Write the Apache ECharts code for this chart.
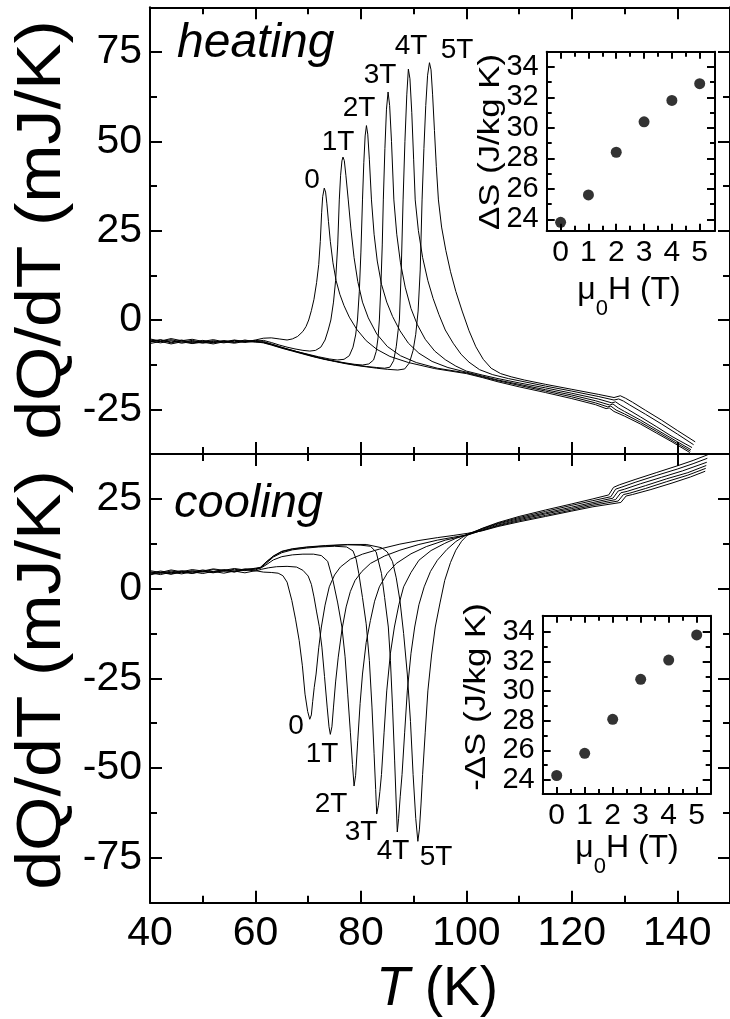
<!DOCTYPE html>
<html>
<head>
<meta charset="utf-8">
<script src="https://cdn.jsdelivr.net/npm/echarts@6.0.0/dist/echarts.min.js"></script>
<style>
  html, body { margin: 0; padding: 0; background: #fff; }
  #chart { width: 730px; height: 1019px; }
</style>
</head>
<body>
<div id="chart"></div>
<script>
// ---- field labels ----
const fieldNames = ['0', '1T', '2T', '3T', '4T', '5T'];

// ---- tick values ----
const tempMajor = [40, 60, 80, 100, 120, 140];
const tempMinor = [50, 70, 90, 110, 130];
const heatMajor = [-25, 0, 25, 50, 75];
const heatMinor = [-12.5, 12.5, 37.5, 62.5];
const coolMajor = [-75, -50, -25, 0, 25];
const coolMinor = [-62.5, -37.5, -12.5, 12.5];
const fieldMajor = [0, 1, 2, 3, 4, 5];
const fieldMinor = [0.5, 1.5, 2.5, 3.5, 4.5];
const entMajor = [24, 26, 28, 30, 32, 34];
const entMinor = [25, 27, 29, 31, 33];

// ---- heating dQ/dT curves [T (K), mJ/K] ----
const heat0 = [[40,-5.6],[42,-6.1],[44,-5.5],[46,-6.2],[48,-5.7],[50,-6.3],[52,-5.8],[54,-6.2],[56,-5.7],[58,-6.1],[60,-5.6],
  [61.5,-5.1],[63,-5.0],[64.5,-5.3],[66,-5.6],[67,-5.3],[68,-4.6],[69,-3.2],[69.6,-1.8],[70.1,0],[70.6,2.6],[71.1,5.8],[71.6,10.5],[72,15.5],[72.3,22],[72.55,30],[72.75,34.5],[73.05,36.9],[73.3,35.8],[73.55,32.5],[73.85,27.5],[74.2,22],[74.7,16],[75.3,11],[76,7.2],[76.8,4],[77.8,0.8],[79.2,-2.6],[81,-5.8],[83,-8.2],[85.5,-10.2],[89,-11.9],[94,-13.6],
  [100,-15.0],[103,-16.1],[106,-17.3],[110,-18.7],[115,-20.3],[120,-22.0],[124.5,-23.7],[126.5,-24.8],[127.1,-24.6],[128,-25.6],[130,-26.9],[133,-29.1],[136,-31.6],[139,-34.1],[142.4,-37.1]];
const heat1 = [[40,-6.2],[42,-5.6],[44,-6.4],[46,-5.8],[48,-6.5],[50,-5.9],[52,-6.4],[54,-5.8],[56,-6.3],[58,-5.8],[60,-6.0],
  [61.5,-5.7],[63,-6.3],[64.5,-7.0],[66,-7.6],[67.5,-8.1],[69,-8.5],[70.3,-8.7],[71.4,-8.5],[72.4,-7.6],[73.2,-5.6],[73.8,-2.8],[74.3,0],[74.8,5],[75.2,11],[75.6,21],[75.9,33.6],[76.15,40.5],[76.4,44.5],[76.6,45.6],[76.85,44.6],[77.15,40.5],[77.6,33.6],[78.1,25.5],[78.7,17.5],[79.4,10.8],[80.3,5],[81.4,0.6],[83,-3.9],[85,-7.4],[87.5,-10.0],[90.5,-11.9],[94.5,-13.5],
  [100,-14.8],[103,-15.9],[106,-17.0],[110,-18.3],[115,-19.9],[120,-21.5],[124.5,-23.2],[126.8,-24.3],[127.4,-24.1],[128.4,-25.2],[130,-26.3],[133,-28.6],[136,-31.1],[139,-33.7],[142.5,-36.7]];
const heat2 = [[40,-5.3],[42,-5.9],[44,-5.2],[46,-5.8],[48,-5.4],[50,-6.0],[52,-5.5],[54,-6.1],[56,-5.6],[58,-6.0],[60,-5.7],
  [61.5,-6.0],[63,-6.7],[64.5,-7.4],[66,-8.1],[68,-8.9],[70,-9.6],[72,-10.3],[74,-10.9],[75.5,-11.2],[76.8,-11.0],[77.8,-10.0],[78.5,-7.6],[79,-4.2],[79.35,0],[79.7,8],[80,19],[80.3,33.6],[80.55,44],[80.8,51.5],[81.05,54.4],[81.3,52],[81.6,45],[82,33.6],[82.5,24],[83.1,16.5],[83.9,10],[84.9,5],[86,1],[87.4,-3],[89,-6.5],[91,-9.3],[93.5,-11.6],[96.5,-13.3],
  [100,-14.6],[103,-15.7],[106,-16.8],[110,-18.0],[115,-19.5],[120,-21.0],[124.5,-22.6],[127.2,-23.8],[127.8,-23.5],[128.8,-24.6],[130,-25.6],[133,-28.0],[136,-30.6],[139,-33.2],[142.6,-36.3]];
const heat3 = [[40,-6.6],[42,-6.0],[44,-6.7],[46,-6.1],[48,-6.6],[50,-6.2],[52,-6.7],[54,-6.1],[56,-6.5],[58,-6.0],[60,-6.2],
  [61.5,-6.2],[63,-6.8],[65,-7.7],[67,-8.5],[69,-9.3],[71,-10.1],[73,-10.9],[75,-11.5],[77,-12.0],[78.8,-12.4],[80.3,-12.6],[81.5,-12.3],[82.4,-11.2],[82.9,-8.8],[83.25,-5],[83.5,0],[83.8,10],[84.05,21],[84.25,33.6],[84.55,48],[84.85,59],[85.15,63.8],[85.45,60],[85.8,50],[86.25,33.6],[86.8,24],[87.5,16],[88.4,9.2],[89.5,3.2],[90.7,-1.3],[92.2,-5.4],[94,-8.7],[96,-11.1],[98,-12.9],
  [100,-14.3],[103,-15.4],[106,-16.4],[110,-17.6],[115,-19.0],[120,-20.5],[125,-22.1],[127.6,-23.2],[128.3,-22.9],[129.2,-23.8],[130.5,-24.9],[133,-27.1],[136,-29.8],[139,-32.6],[142.8,-35.7]];
const heat4 = [[40,-5.9],[42,-6.4],[44,-5.8],[46,-6.5],[48,-6.0],[50,-6.5],[52,-6.0],[54,-6.4],[56,-5.9],[58,-6.3],[60,-5.9],
  [61.5,-6.3],[63,-6.9],[65,-7.8],[67,-8.6],[69,-9.4],[71,-10.2],[73,-10.9],[75,-11.5],[77,-12.1],[79,-12.6],[81,-13.0],[83,-13.3],[84.5,-13.5],[85.5,-13.2],[86.2,-11.4],[86.7,-7.5],[87.05,-3],[87.3,0],[87.65,14],[88,33.6],[88.35,50],[88.7,63],[89,70.2],[89.3,67.5],[89.65,58],[90,45],[90.3,33.6],[90.9,25],[91.7,17.5],[92.7,11],[93.7,6],[94.8,1.5],[96,-2.8],[97.5,-6.5],[99,-9.6],[100.5,-11.8],[102.5,-13.9],[105,-15.3],[108,-16.4],
  [110,-17.0],[115,-18.5],[120,-19.9],[125,-21.4],[128,-22.4],[128.9,-22.1],[129.8,-22.7],[131,-23.8],[134,-26.4],[137,-29.1],[140,-31.9],[143.1,-34.9]];
const heat5 = [[40,-6.0],[42,-5.5],[44,-6.2],[46,-5.6],[48,-6.3],[50,-5.7],[52,-6.3],[54,-5.8],[56,-6.2],[58,-5.6],[60,-6.1],
  [61.5,-6.4],[63,-7.0],[65,-7.9],[67,-8.7],[69,-9.5],[71,-10.3],[73,-11.0],[75,-11.6],[77,-12.2],[79,-12.7],[81,-13.1],[83,-13.5],[85,-13.8],[87,-14.0],[88.3,-13.7],[89.2,-12.0],[89.9,-8.5],[90.4,-4],[90.85,2.5],[91.25,14],[91.6,33.6],[91.95,48],[92.3,60],[92.65,68.5],[93,72],[93.3,70],[93.6,63],[93.95,53],[94.3,43],[94.7,33.6],[95.3,26],[96.1,19.5],[97,13.5],[98,8],[99.2,2.5],[100.5,-3],[101.8,-7.5],[103.2,-11],[104.7,-13.5],[106.5,-15],[108.5,-15.9],[111,-16.8],
  [115,-18.0],[120,-19.4],[125,-20.8],[128,-21.7],[129.2,-21.2],[130.2,-21.9],[131.5,-23.0],[134,-25.3],[137,-28.0],[140,-30.9],[143.4,-34.1]];

// ---- cooling dQ/dT curves [T (K), mJ/K] ----
const cool0 = [[40,4.4],[42,3.9],[44,4.6],[46,4.1],[48,4.7],[50,4.2],[52,4.8],[54,4.3],[56,4.9],[58,4.4],[60,5.0],
  [61.5,4.6],[63,4.5],[64.3,4.3],[65.2,3.6],[66,1.8],[66.9,-3.3],[67.6,-8.5],[68.3,-14.5],[68.9,-21.5],[69.4,-29.4],[69.9,-34.2],[70.3,-36.4],[70.6,-35.2],[70.85,-31.5],[71.15,-27.5],[71.5,-23.8],[72,-16.5],[72.5,-10.7],[73.2,-4.6],[74,0.5],[75,3.8],[76.1,6],[78,8.2],[80.3,9.6],[83.5,11],[87.4,12.4],[91,13.4],[94.5,14.2],[97.5,14.8],
  [100.2,15.4],[103,16.1],[106,17.3],[110,18.6],[115,20.1],[120,21.6],[124,22.8],[129.3,24.0],[130.3,25.8],[131.5,26.2],[135,27.6],[139,29.4],[142.5,31.1],[145.3,32.7]];
const cool1 = [[40,4.0],[42,4.6],[44,4.1],[46,4.8],[48,4.3],[50,4.9],[52,4.5],[54,5.1],[56,4.6],[58,5.3],[60,4.9],
  [61.2,5.4],[62.5,5.8],[64,6.1],[66,6.2],[67.8,6.0],[69,5.1],[70,3.5],[70.6,1.2],[71.1,-2.3],[71.6,-6.5],[72.1,-10.5],[72.6,-16.3],[73.1,-24.5],[73.6,-33],[73.95,-38.5],[74.2,-40.6],[74.5,-38.5],[74.8,-33],[75.2,-26],[75.7,-19.1],[76.4,-11.5],[77.2,-5.1],[78,-0.8],[78.9,2.3],[80.2,4.8],[81.8,7],[84.5,9.1],[87.4,10.7],[91,12.3],[94.5,13.5],[97.5,14.3],
  [100.2,15.0],[103,16.2],[106,17.5],[110,18.9],[115,20.4],[120,21.9],[124,23.2],[128.8,24.4],[129.8,26.2],[131,26.6],[134,27.9],[138,29.8],[142,31.6],[145.4,33.5]];
const cool2 = [[40,4.7],[42,4.2],[44,4.9],[46,4.4],[48,5.0],[50,4.6],[52,5.3],[54,4.8],[56,5.4],[58,5.0],[60,5.5],
  [61,5.7],[62,6.6],[63.4,8.0],[65,8.9],[67,9.4],[69,9.6],[71,9.6],[72.5,9.2],[73.7,7.6],[74.7,2.3],[75.6,-4],[76.4,-10.7],[77,-19],[77.5,-29.4],[78,-40],[78.4,-49],[78.7,-55],[79,-52],[79.4,-42.4],[79.85,-32],[80.3,-23.8],[81,-15],[81.8,-8.9],[82.6,-3.5],[83.5,0.5],[85,4.3],[86.7,7],[89.5,9.7],[92.4,11.7],[96,13.5],
  [100.2,14.9],[103,16.3],[106,17.7],[110,19.2],[115,20.8],[120,22.3],[124,23.6],[128.3,24.8],[129.3,26.7],[130.5,27.1],[134,28.7],[138,30.6],[142,32.3],[145.5,34.3]];
const cool3 = [[40,3.8],[42,4.5],[44,4.0],[46,4.6],[48,4.2],[50,4.8],[52,4.4],[54,5.0],[56,4.7],[58,5.3],[60,5.2],
  [61,5.8],[62,7.0],[63.4,8.8],[65,10],[67,10.8],[69.7,11.3],[72,11.6],[75,11.8],[77.3,11.6],[78.5,10.5],[79.1,8.2],[79.6,4.2],[80.3,-2.5],[81,-9.8],[81.6,-20],[82.1,-33],[82.5,-46],[82.8,-56],[83.0,-62.8],[83.3,-60.5],[83.6,-56.5],[83.9,-51.8],[84.4,-40],[84.9,-28.5],[85.6,-18],[86.35,-10.7],[87.2,-4.5],[88.1,0.5],[89.5,4.5],[91,7.9],[93.3,10.6],[95.9,12.6],[98,14],
  [100.2,15.1],[103,16.5],[106,18.0],[110,19.5],[115,21.1],[120,22.7],[124,24.0],[127.8,25.2],[128.8,27.2],[130,27.7],[133,29.2],[137,31.0],[141,32.8],[145.6,35.2]];
const cool4 = [[40,5.0],[42,4.5],[44,5.2],[46,4.7],[48,5.3],[50,4.9],[52,5.5],[54,5.1],[56,5.6],[58,5.2],[60,5.7],
  [61,5.9],[62,7.3],[63.4,9.0],[65,10.3],[67,11],[69.7,11.5],[73.3,11.9],[77.5,12.2],[80,12.1],[81.8,11.8],[82.9,10.2],[83.9,4.2],[84.5,-2.5],[85.2,-10.7],[85.6,-20],[86,-33],[86.4,-48],[86.7,-60],[86.9,-67.8],[87.15,-64],[87.45,-58],[87.8,-51.8],[88.3,-40],[88.8,-28.5],[89.5,-18],[90.2,-10.7],[91,-4.5],[92,0.5],[93.2,4.8],[94.5,7.9],[96.3,10.9],[98,13.1],
  [100.2,15.2],[103,16.7],[106,18.2],[110,19.8],[115,21.5],[120,23.2],[124,24.5],[127.4,25.6],[128.3,27.7],[129.5,28.3],[132,29.6],[136,31.5],[140,33.3],[143,34.8],[145.7,36.3]];
const cool5 = [[40,4.3],[42,4.9],[44,4.4],[46,5.0],[48,4.6],[50,5.2],[52,4.7],[54,5.3],[56,4.9],[58,5.5],[60,5.5],
  [61,6.0],[62,7.4],[63.4,9.1],[65,10.4],[67,11.1],[69.7,11.6],[73.3,12.0],[77.5,12.3],[81,12.3],[83.9,11.4],[85,10.2],[86,7.5],[86.7,3],[87.4,-3.3],[88.1,-12.5],[88.8,-23.8],[89.4,-37],[89.9,-51.8],[90.4,-64],[90.8,-70.4],[91.1,-67],[91.4,-60],[91.7,-51.8],[92.2,-40],[92.7,-28.5],[93.4,-18.5],[94.1,-10.7],[95,-4],[95.9,2.3],[97,7.3],[98,10.7],[99.1,13.2],
  [100.2,14.9],[103,16.8],[106,18.4],[110,20.1],[115,21.9],[120,23.6],[124,25.0],[127,26.1],[127.9,28.2],[129,28.9],[132,30.4],[136,32.3],[140,34.2],[143,35.7],[145.8,37.3]];

// ---- entropy change vs field (insets) ----
const fieldT = [0, 1, 2, 3, 4, 5];
const entropyHeating = [23.8, 25.6, 28.4, 30.4, 31.8, 32.9];
const entropyCooling = [24.3, 25.8, 28.1, 30.8, 32.1, 33.8];

const heatCurves = [heat0, heat1, heat2, heat3, heat4, heat5];
const coolCurves = [cool0, cool1, cool2, cool3, cool4, cool5];

// ---- layout / styling ----
const FONT = '"Liberation Sans", Arial, Helvetica, sans-serif';
const BLACK = '#000';

const grids = [
  { left: 150, top: 7.3, width: 586.7, height: 446.7 },   // heating
  { left: 150, top: 454, width: 586.7, height: 448.7 },   // cooling
  { left: 546.7, top: 51.7, width: 168.3, height: 179 },  // heating inset
  { left: 542.7, top: 615.7, width: 168, height: 178.3 }  // cooling inset
];

// Build a frame side as two overlaid axes: one carrying the line, the long ticks
// and (optionally) the labels, the other carrying the short ticks.
function sideAxes(g, pos, min, max, major, minor, lenMaj, lenMin, lineW, label) {
  const base = {
    type: 'value', gridIndex: g, position: pos, min: min, max: max,
    splitLine: { show: false }, silent: true
  };
  const main = Object.assign({}, base, {
    axisLine: { show: true, onZero: false, lineStyle: { color: BLACK, width: lineW } },
    axisTick: { show: true, inside: true, length: lenMaj, customValues: major,
                lineStyle: { color: BLACK, width: lineW } },
    axisLabel: label ? Object.assign({ show: true, customValues: major, color: BLACK,
                fontFamily: FONT, showMinLabel: true, showMaxLabel: true }, label)
                     : { show: false }
  });
  const sub = Object.assign({}, base, {
    axisLine: { show: false, onZero: false },
    axisTick: { show: true, inside: true, length: lenMin, customValues: minor,
                lineStyle: { color: BLACK, width: lineW } },
    axisLabel: { show: false }
  });
  return [main, sub];
}

const mainX = { fontSize: 41, margin: 10 };
const mainY = { fontSize: 41, margin: 8 };
const insetX = { fontSize: 30, margin: 7 };
const insetY = { fontSize: 29, margin: 8 };

const xAxes = [].concat(
  sideAxes(0, 'bottom', 40, 150, tempMajor, tempMinor, 12, 7, 2, null),
  sideAxes(0, 'top', 40, 150, tempMajor, tempMinor, 12, 7, 2, null),
  sideAxes(1, 'bottom', 40, 150, tempMajor, tempMinor, 12, 7, 2, mainX),
  sideAxes(1, 'top', 40, 150, tempMajor, tempMinor, 12, 7, 2, null),
  sideAxes(2, 'bottom', -0.5, 5.55, fieldMajor, fieldMinor, 7, 5, 2, insetX),
  sideAxes(2, 'top', -0.5, 5.55, fieldMajor, fieldMinor, 7, 5, 2, null),
  sideAxes(3, 'bottom', -0.5, 5.5, fieldMajor, fieldMinor, 7, 5, 2, insetX),
  sideAxes(3, 'top', -0.5, 5.5, fieldMajor, fieldMinor, 7, 5, 2, null)
);
const yAxes = [].concat(
  sideAxes(0, 'left', -37.5, 87.5, heatMajor, heatMinor, 12, 7, 2, mainY),
  sideAxes(0, 'right', -37.5, 87.5, heatMajor, heatMinor, 12, 7, 2, null),
  sideAxes(1, 'left', -87.5, 37.5, coolMajor, coolMinor, 12, 7, 2, mainY),
  sideAxes(1, 'right', -87.5, 37.5, coolMajor, coolMinor, 12, 7, 2, null),
  sideAxes(2, 'left', 23.25, 35, entMajor, entMinor, 8, 5, 2, insetY),
  sideAxes(2, 'right', 23.25, 35, entMajor, entMinor, 8, 5, 2, null),
  sideAxes(3, 'left', 23.05, 35.1, entMajor, entMinor, 8, 5, 2, insetY),
  sideAxes(3, 'right', 23.05, 35.1, entMajor, entMinor, 8, 5, 2, null)
);

// Each grid uses 4 axes per direction; the first one is the data axis.
function curveSeries(curves, g) {
  return curves.map((d, i) => ({
    type: 'line', name: fieldNames[i], xAxisIndex: 4 * g, yAxisIndex: 4 * g,
    data: d, showSymbol: false, symbol: 'none', smooth: false,
    lineStyle: { color: BLACK, width: 1 }, silent: true, z: 3
  }));
}
function insetSeries(values, g) {
  return {
    type: 'scatter', xAxisIndex: 4 * g, yAxisIndex: 4 * g,
    data: fieldT.map((f, i) => [f, values[i]]),
    symbol: 'circle', symbolSize: 11, itemStyle: { color: BLACK }, silent: true, z: 5
  };
}

// Text helper; `stretch` lengthens a label along its reading direction.
function txt(x, y, text, size, opts) {
  opts = opts || {};
  const el = {
    type: 'text', x: x, y: y, silent: true, z: 10,
    style: Object.assign({ text: text, fill: BLACK, fontSize: size, fontFamily: FONT,
                           align: 'center', verticalAlign: 'middle' }, opts.style || {})
  };
  if (opts.rotation !== undefined) el.rotation = opts.rotation;
  if (opts.stretch) el.scaleX = opts.stretch;
  return el;
}
const ROT = Math.PI / 2;

// subscripted field axis title: mu_0 H (T)
function fieldTitle(x, y) {
  return {
    type: 'text', x: x, y: y, silent: true, z: 10,
    style: {
      text: '{a|\u03bc}{s|0}{a|H (T)}', align: 'center', verticalAlign: 'middle',
      rich: {
        a: { fontSize: 32, fontFamily: FONT, fill: BLACK, lineHeight: 60, verticalAlign: 'middle' },
        s: { fontSize: 22, fontFamily: FONT, fill: BLACK, lineHeight: 22, verticalAlign: 'bottom' }
      }
    }
  };
}

const heatLabelPos = [[312, 180], [338, 142], [359, 108], [380, 75], [411, 46], [457, 50]];
const coolLabelPos = [[296, 726], [322, 754], [331, 804], [361, 832], [393, 851], [436, 857]];

const graphics = [
  txt(43, 230, 'dQ/dT (mJ/K)', 63, { rotation: ROT, stretch: 1.11 }),
  txt(43, 680, 'dQ/dT (mJ/K)', 63, { rotation: ROT, stretch: 1.11 }),
  {
    type: 'text', x: 437, y: 990, silent: true, z: 10,
    style: {
      text: '{i|T}{r| (K)}', align: 'center', verticalAlign: 'middle',
      rich: {
        i: { fontSize: 55, fontFamily: FONT, fontStyle: 'italic', fill: BLACK },
        r: { fontSize: 55, fontFamily: FONT, fill: BLACK }
      }
    }
  },
  txt(177, 44, 'heating', 48, { style: { align: 'left', fontStyle: 'italic' } }),
  txt(174, 504, 'cooling', 47, { style: { align: 'left', fontStyle: 'italic' } }),
  txt(491, 142, '\u0394S (J/kg K)', 29, { rotation: ROT, stretch: 1.2 }),
  txt(477, 697, '-\u0394S (J/kg K)', 29, { rotation: ROT, stretch: 1.2 }),
  fieldTitle(629, 290),
  fieldTitle(627, 848)
];
fieldNames.forEach((n, i) => {
  graphics.push(txt(heatLabelPos[i][0], heatLabelPos[i][1], n, 28));
  graphics.push(txt(coolLabelPos[i][0], coolLabelPos[i][1], n, 28));
});

const chart = echarts.init(document.getElementById('chart'), null, { renderer: 'canvas' });
chart.setOption({
  animation: false,
  backgroundColor: '#fff',
  grid: grids,
  xAxis: xAxes,
  yAxis: yAxes,
  series: [].concat(
    curveSeries(heatCurves, 0),
    curveSeries(coolCurves, 1),
    [insetSeries(entropyHeating, 2), insetSeries(entropyCooling, 3)]
  ),
  graphic: { elements: graphics }
});
</script>
</body>
</html>
